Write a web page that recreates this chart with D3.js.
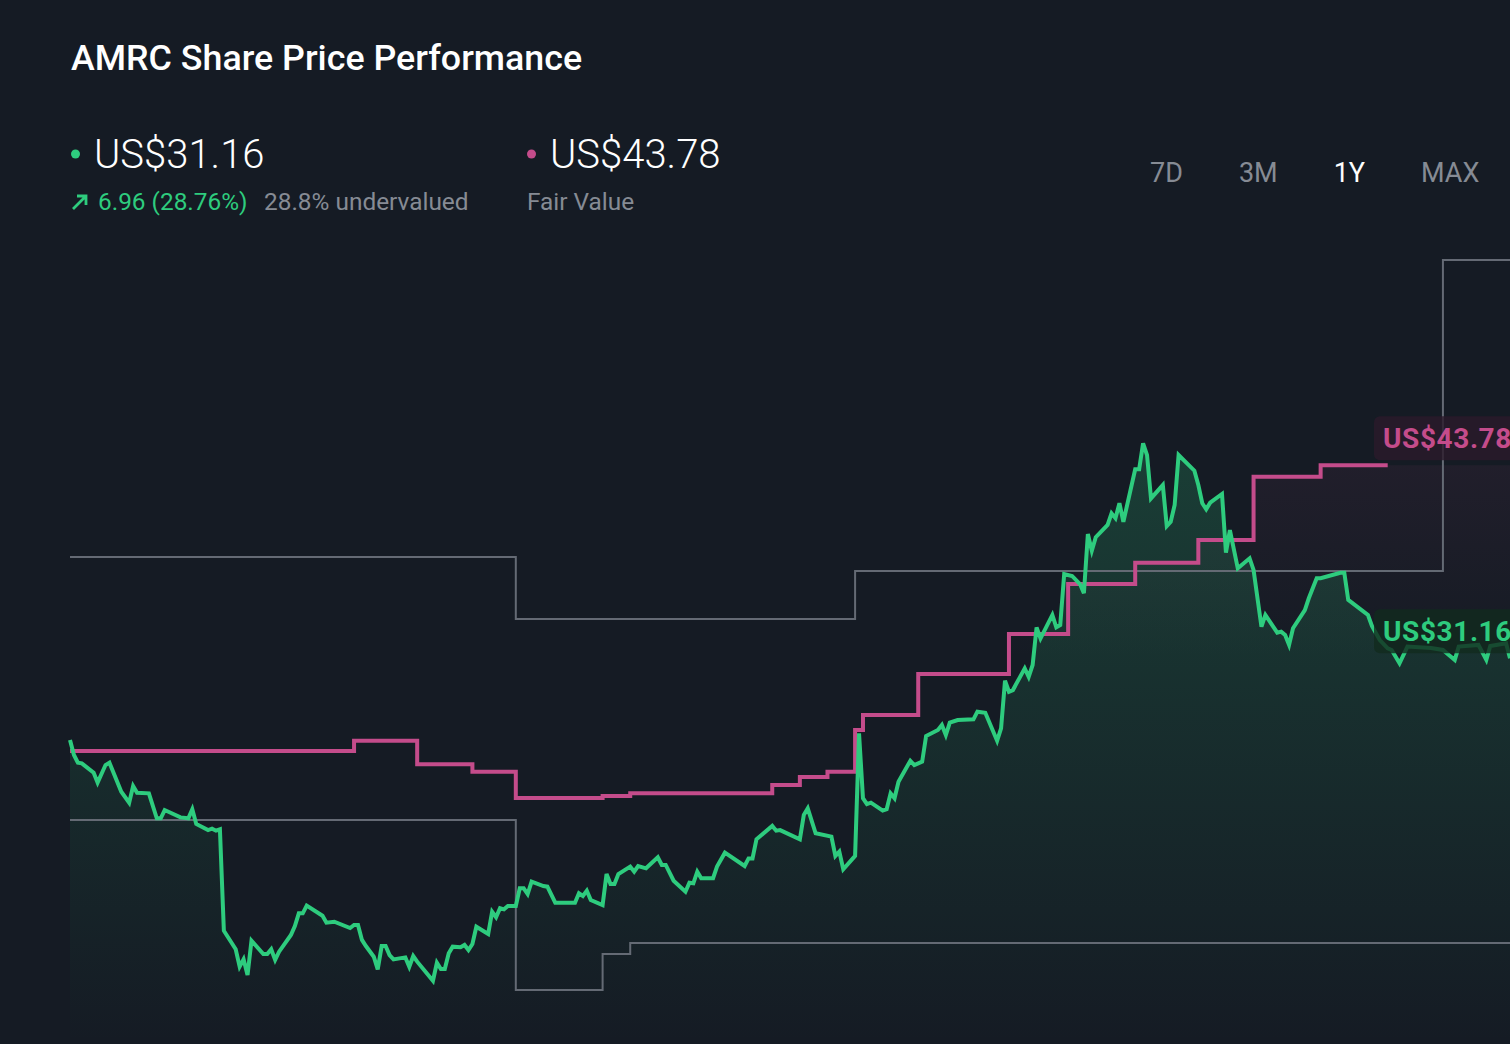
<!DOCTYPE html>
<html>
<head>
<meta charset="utf-8">
<script src="https://cdn.jsdelivr.net/npm/d3@7"></script>
<style>
  body { margin: 0; background: #151b24; overflow: hidden; }
  text { font-family: Roboto, "Noto Sans", sans-serif; }
</style>
</head>
<body>
<div id="amrc_chart"></div>
<script>
// price, day number within the 1Y window (0 = first day)
const priceDay = [
  0,1,2,3,6,7,9,10,13,15,
  16,17,20,22,23,24,28,30,31,32,
  35,36,37,38,39,42,43,44,45,46,
  49,50,51,52,53,56,57,58,59,60,
  64,65,67,71,72,73,74,75,77,78,
  79,80,81,82,85,86,87,88,92,93,
  94,95,96,97,99,100,101,102,103,106,
  107,108,109,110,111,113,114,115,116,117,
  120,121,123,128,129,130,131,132,135,136,
  137,138,139,142,143,144,146,149,150,151,
  153,156,157,158,159,160,163,164,166,171,
  172,173,174,178,179,180,185,186,187,189,
  193,194,195,196,199,200,201,202,203,206,
  207,208,209,210,213,214,215,216,217,220,
  221,222,223,225,229,230,232,235,236,237,
  238,239,242,243,244,245,246,249,250,251,
  252,254,256,257,258,259,260,263,264,265,
  266,267,270,271,272,273,274,277,278,279,
  280,281,285,286,287,288,289,292,293,294,
  296,299,300,302,303,306,307,308,309,310,
  313,314,316,317,322,323,324,329,330,332,
  334,335,337,339,345,348,351,352,357,359,
  360,364,365
];
const price = [
  25.82,24.84,24.33,24.29,23.68,23.03,24.18,24.33,22.44,21.72,
  22.81,22.37,22.33,20.70,20.70,21.24,20.76,20.70,21.29,20.33,
  19.93,20.02,19.89,19.98,13.35,12.14,11.00,11.48,10.46,12.70,
  11.83,11.83,12.14,11.44,11.98,13.07,13.66,14.49,14.49,14.99,
  14.33,13.88,13.94,13.53,13.73,13.73,12.75,12.35,11.65,10.83,
  12.35,12.35,11.76,11.48,11.61,11.00,11.70,11.33,10.08,11.26,
  10.85,10.85,11.88,12.31,12.27,12.42,12.09,12.48,13.61,13.14,
  14.59,14.23,14.82,14.75,14.97,14.97,16.12,16.12,15.75,16.56,
  16.27,16.23,15.18,15.18,15.80,15.62,15.97,15.36,15.03,17.06,
  16.41,16.41,17.06,17.54,17.21,17.58,17.43,18.15,17.65,17.65,
  16.62,15.90,16.49,16.45,17.21,16.78,16.78,17.54,18.45,17.58,
  18.08,18.08,19.33,20.20,19.89,19.93,19.33,20.92,21.35,19.72,
  19.50,18.24,18.52,17.37,18.24,26.25,22.01,21.63,21.72,21.20,
  21.29,22.33,22.01,23.09,24.46,24.18,24.29,24.40,26.08,26.47,
  26.80,26.14,26.95,27.12,27.17,27.67,27.60,25.77,26.58,29.69,
  28.97,29.08,30.50,29.95,30.72,33.18,32.46,33.99,33.18,33.33,
  36.67,36.54,36.01,35.41,39.28,38.19,39.07,39.87,40.63,40.31,
  41.29,40.08,43.51,43.51,45.21,44.44,41.61,42.48,39.80,40.08,
  41.18,44.44,43.42,42.48,41.29,40.90,41.33,41.90,38.06,39.54,
  37.04,37.69,36.93,33.22,33.99,32.83,32.90,32.68,32.03,33.12,
  34.31,35.08,36.39,36.39,36.75,36.75,34.97,33.99,33.27,32.35,
  31.81,31.70,30.83,31.92,31.83,31.70,31.05,31.92,32.03,31.05,
  31.96,32.14,31.16
];

// fair value estimate (steps)
const fairDay   = [0, 72, 88, 102, 113, 135, 142, 178, 185, 192, 199, 201, 215, 238, 253, 270, 286, 300, 317, 334];
const fairValue = [25.10, 25.77, 24.23, 23.75, 22.03, 22.16, 22.33, 22.88, 23.40, 23.75, 26.47, 27.45, 30.13, 32.75, 36.01, 37.40, 38.89, 43.03, 43.78, 43.78];

// analyst target range (high / low)
const highDay   = [0, 113, 199, 348, 365];
const highValue = [37.78, 33.73, 36.86, 57.19, 57.19];
const lowDay    = [0, 113, 135, 142, 365];
const lowValue  = [20.59, 9.48, 11.83, 12.55, 12.55];

const periods = ["7D", "3M", "1Y", "MAX"];
const activePeriod = "1Y";

const lastPrice = 31.16, fairNow = 43.78;
const changeAbs = 6.96, changePct = 28.76, undervalued = 28.8;

const width = 1510, height = 1044;
const green = "#2ecc7e", pink = "#c44c8b", grey = "#646a74", muted = "#868b94";

const svg = d3.select("#amrc_chart")
  .append("svg")
  .attr("width", width)
  .attr("height", height)
  .style("display", "block");

const defs = svg.append("defs");

const gGrad = defs.append("linearGradient")
  .attr("id", "greenFill")
  .attr("gradientUnits", "userSpaceOnUse")
  .attr("x1", 0).attr("x2", 0).attr("y1", 440).attr("y2", 1044);
gGrad.append("stop").attr("offset", 0).attr("stop-color", green).attr("stop-opacity", 0.2);
gGrad.append("stop").attr("offset", 1).attr("stop-color", green).attr("stop-opacity", 0.0);

const pGrad = defs.append("linearGradient")
  .attr("id", "pinkFill")
  .attr("gradientUnits", "userSpaceOnUse")
  .attr("x1", 0).attr("x2", 0).attr("y1", 460).attr("y2", 660);
pGrad.append("stop").attr("offset", 0).attr("stop-color", pink).attr("stop-opacity", 0.07);
pGrad.append("stop").attr("offset", 1).attr("stop-color", pink).attr("stop-opacity", 0.0);

const x = d3.scaleLinear().domain([0, 365]).range([70, 1510]);
const y = d3.scaleLinear().domain([0, 60]).range([1135, 217]);

const priceData = priceDay.map((d, i) => ({day: d, value: price[i]}));
const fairData  = fairDay.map((d, i) => ({day: d, value: fairValue[i]}));
const highData  = highDay.map((d, i) => ({day: d, value: highValue[i]}));
const lowData   = lowDay.map((d, i) => ({day: d, value: lowValue[i]}));

const stepLine = d3.line().x(d => x(d.day)).y(d => y(d.value)).curve(d3.curveStepAfter);

// header
svg.append("text")
  .attr("x", 71).attr("y", 70)
  .attr("fill", "#ffffff")
  .attr("font-size", 35.8).attr("font-weight", 500)
  .text("AMRC Share Price Performance");

svg.append("circle").attr("cx", 75.5).attr("cy", 154).attr("r", 4.5).attr("fill", green);
svg.append("text")
  .attr("x", 94).attr("y", 168)
  .attr("fill", "#ffffff").attr("font-size", 40).attr("font-weight", 300)
  .text("US$" + lastPrice.toFixed(2));

svg.append("path")
  .attr("d", "M73,209 L86,196 M77,196 L86,196 L86,205")
  .attr("fill", "none").attr("stroke", green).attr("stroke-width", 2.8);
svg.append("text")
  .attr("x", 98).attr("y", 210)
  .attr("fill", green).attr("font-size", 24.4)
  .text(`${changeAbs.toFixed(2)} (${changePct.toFixed(2)}%)`);
svg.append("text")
  .attr("x", 264).attr("y", 210)
  .attr("fill", muted).attr("font-size", 24.4)
  .text(`${undervalued}% undervalued`);

svg.append("circle").attr("cx", 531.5).attr("cy", 154).attr("r", 4.5).attr("fill", pink);
svg.append("text")
  .attr("x", 550).attr("y", 168)
  .attr("fill", "#ffffff").attr("font-size", 40).attr("font-weight", 300)
  .text("US$" + fairNow.toFixed(2));
svg.append("text")
  .attr("x", 527).attr("y", 210)
  .attr("fill", muted).attr("font-size", 24.4)
  .text("Fair Value");

// period buttons, laid out left to right with a fixed gap
const periodText = svg.selectAll(".period")
  .data(periods)
  .enter()
  .append("text")
  .attr("class", "period")
  .attr("y", 182)
  .attr("font-size", 27)
  .attr("fill", d => d === activePeriod ? "#ffffff" : muted)
  .text(d => d);
let px = 1150;
periodText.each(function () {
  d3.select(this).attr("x", px);
  px += this.getComputedTextLength() + 56;
});

// chart
const chart = svg.append("g");

chart.append("path")
  .datum(fairData.concat([{day: 365, value: fairNow}]))
  .attr("fill", "url(#pinkFill)")
  .attr("d", d3.area().x(d => x(d.day)).y0(height).y1(d => y(d.value)).curve(d3.curveStepAfter));

chart.append("path")
  .datum(priceData)
  .attr("fill", "url(#greenFill)")
  .attr("d", d3.area().x(d => x(d.day)).y0(height).y1(d => y(d.value)));

[highData, lowData].forEach(data => {
  chart.append("path")
    .datum(data)
    .attr("fill", "none")
    .attr("stroke", grey)
    .attr("stroke-width", 2)
    .attr("d", stepLine);
});

chart.append("path")
  .datum(fairData)
  .attr("fill", "none")
  .attr("stroke", pink)
  .attr("stroke-width", 4)
  .attr("d", stepLine);

chart.append("path")
  .datum(priceData)
  .attr("fill", "none")
  .attr("stroke", green)
  .attr("stroke-width", 4)
  .attr("stroke-linejoin", "miter")
  .attr("d", d3.line().x(d => x(d.day)).y(d => y(d.value)));

// end labels (they run past the right edge, as in the original)
const labels = [
  {text: "US$" + fairNow.toFixed(2), value: fairNow, color: pink, bg: "#2a1a2a"},
  {text: "US$" + lastPrice.toFixed(2), value: lastPrice, color: green, bg: "#112a1e"}
];
const lab = chart.selectAll(".endlabel")
  .data(labels)
  .enter()
  .append("g")
  .attr("class", "endlabel")
  .attr("transform", d => `translate(1374,${y(d.value) - 27})`);
lab.append("rect")
  .attr("x", 0).attr("y", -22).attr("width", 170).attr("height", 44).attr("rx", 6)
  .attr("fill", d => d.bg).attr("fill-opacity", 0.8);
lab.append("text")
  .attr("x", 9).attr("y", 10)
  .attr("font-size", 28).attr("font-weight", 700)
  .attr("letter-spacing", 0.6)
  .attr("fill", d => d.color)
  .text(d => d.text);
</script>
</body>
</html>
